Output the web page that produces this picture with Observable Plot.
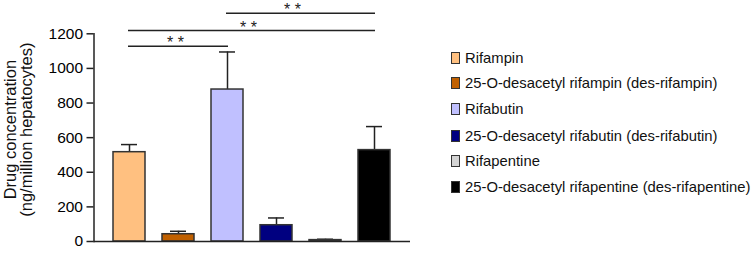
<!DOCTYPE html>
<html>
<head>
<meta charset="utf-8">
<script src="https://cdn.jsdelivr.net/npm/d3@7"></script>
<script src="https://cdn.jsdelivr.net/npm/@observablehq/plot@0.6"></script>
<style>
  body { margin: 0; background: #fff; font-family: "Liberation Sans", Arial, sans-serif; }
  #wrap { position: relative; width: 755px; height: 253px; }
  #legend { position: absolute; left: 451px; top: 0; }
  .row { position: absolute; left: 0; white-space: nowrap; font-size: 14.8px; color: #111; display: flex; align-items: center; }
  .sw { width: 7px; height: 10px; border: 1px solid #333; margin-right: 5px; }
</style>
</head>
<body>
<div id="wrap"><div id="chart"></div><div id="legend"></div></div>
<script>
const categories = [
  "Rifampin",
  "25-O-desacetyl rifampin (des-rifampin)",
  "Rifabutin",
  "25-O-desacetyl rifabutin (des-rifabutin)",
  "Rifapentine",
  "25-O-desacetyl rifapentine (des-rifapentine)"
];
const values = [516, 42, 878, 94, 8, 528];
const errors = [44, 17, 217, 42, 5, 136];
const colors = ["#FFC080", "#C06000", "#C0C0FF", "#000080", "#D3D3D3", "#000000"];
const yTicks = [0, 200, 400, 600, 800, 1000, 1200];
const bracketFrom = [0, 0, 2];
const bracketTo = [2, 5, 5];
const bracketLevel = [1128, 1219, 1319];
const bracketLabel = ["* *", "* *", "* *"];
const yTitle = "Drug concentration\n(ng/million hepatocytes)";

const data = categories.map((c, i) => ({cat: c, value: values[i], err: errors[i], color: colors[i]}));
const brackets = bracketFrom.map((f, i) => ({from: categories[f], to: categories[bracketTo[i]], level: bracketLevel[i], label: bracketLabel[i]}));
// star label anchor categories and offsets
const starCat = [categories[1], categories[3], categories[3]];
const starDx = [-3, -28, 16];

const chart = Plot.plot({
  width: 755,
  height: 253,
  marginLeft: 93.5,
  marginRight: 345,
  marginTop: 33.3,
  marginBottom: 12,
  style: {fontFamily: "'Liberation Sans', Arial, sans-serif", background: "#fff", overflow: "visible"},
  x: {domain: categories, paddingInner: 0.356, paddingOuter: 0.367, axis: null},
  y: {domain: [0, 1200], axis: null},
  color: {type: "identity"},
  marks: [
    Plot.ruleX(data, {x: "cat", y1: "value", y2: d => d.value + d.err, stroke: "#222", strokeWidth: 1.5}),
    Plot.tickY(data, {x: "cat", y: d => d.value + d.err, stroke: "#222", strokeWidth: 1.5, insetLeft: 8, insetRight: 8}),
    Plot.barY(data, {x: "cat", y: "value", fill: "color", stroke: "#333", strokeWidth: 1.5}),
    Plot.axisY({ticks: yTicks, tickSize: 7, tickPadding: 4, fontSize: 15.5, label: null, stroke: "#222", strokeWidth: 1.5, tickFormat: d => String(d)}),
    Plot.frame({anchor: "left", stroke: "#222", strokeWidth: 1.5}),
    Plot.ruleY([0], {stroke: "#222", strokeWidth: 1.5}),
    Plot.ruleY(brackets, {x1: "from", x2: "to", y: "level", stroke: "#222", strokeWidth: 1.5, insetLeft: 15, insetRight: 15}),
    Plot.text(brackets, {x: (d, i) => starCat[i], y: "level", text: "label", fontSize: 16, dy: -3, fill: "#222"}),
    Plot.text([yTitle], {frameAnchor: "left", dx: -75, dy: -8, rotate: -90, textAnchor: "middle", fontSize: 16.5, lineHeight: 0.98, text: d => d, fill: "#111"})
  ]
});
document.getElementById("chart").appendChild(chart);

// shift star labels with per-label offsets
const starTexts = chart.querySelectorAll("g[aria-label='text']")[0].querySelectorAll("text");
starTexts.forEach((t, i) => {
  const tr = t.getAttribute("transform") || "";
  t.setAttribute("transform", tr + ` translate(${starDx[i]},0)`);
});

const legend = document.getElementById("legend");
const rowY = [57.7, 83.3, 109.2, 135.5, 160.7, 186.5];
categories.forEach((c, i) => {
  const row = document.createElement("div");
  row.className = "row";
  row.style.top = (rowY[i] - 9) + "px";
  row.style.height = "18px";
  const sw = document.createElement("div");
  sw.className = "sw";
  sw.style.background = colors[i];
  const tx = document.createElement("span");
  tx.textContent = c;
  row.appendChild(sw);
  row.appendChild(tx);
  legend.appendChild(row);
});
</script>
</body>
</html>
